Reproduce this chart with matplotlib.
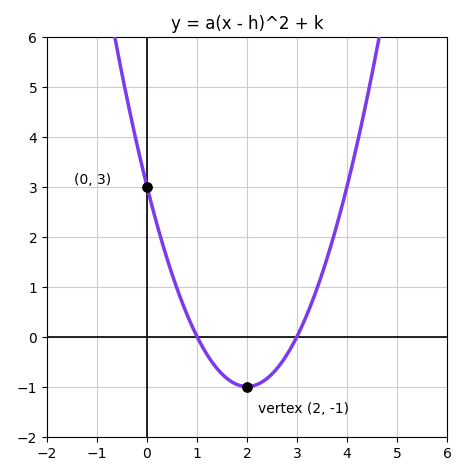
import numpy as np
import matplotlib.pyplot as plt

# parabola parameters
a = 1.0
h = 2.0
k = -1.0

x_range = [-2, 6]
y_range = [-2, 6]
ticks = [-2, -1, 0, 1, 2, 3, 4, 5, 6]

# marked points and their labels
pt_x = [0, 2]
pt_y = [3, -1]
pt_labels = ["(0, 3)", "vertex (2, -1)"]
label_offsets = [(-1.45, 0.15), (0.22, -0.43)]

fig = plt.figure(figsize=(4.64, 4.77), dpi=100)
ax = fig.add_axes([47/464, 39.5/477, 400/464, 400/477])

x = np.linspace(x_range[0], x_range[1], 800)
y = a * (x - h)**2 + k
ax.plot(x, y, color='#7c3aed', lw=2.5, zorder=3)

ax.axhline(0, color='black', lw=1.2, zorder=2)
ax.axvline(0, color='black', lw=1.2, zorder=2)

ax.scatter(pt_x, pt_y, color='black', s=45, zorder=4)
for px, py, lab, off in zip(pt_x, pt_y, pt_labels, label_offsets):
    ax.text(px + off[0], py + off[1], lab, fontsize=10, va='center')

ax.set_xlim(x_range)
ax.set_ylim(y_range)
ax.set_xticks(ticks)
ax.set_yticks(ticks)
ax.grid(True, color='#cccccc', lw=0.8)
ax.set_axisbelow(True)
ax.set_title("y = a(x - h)^2 + k", fontsize=12)

fig.savefig("out.png", dpi=100)
